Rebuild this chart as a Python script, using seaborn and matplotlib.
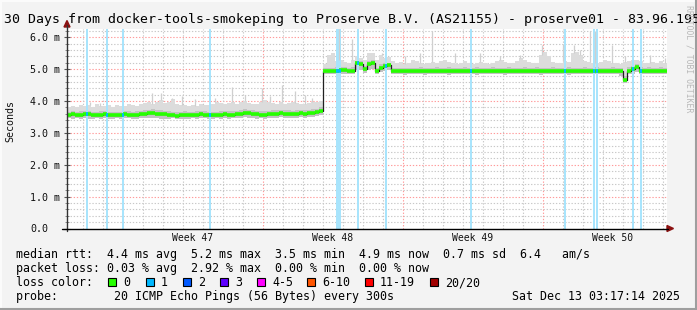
import numpy as np
import matplotlib
matplotlib.use("Agg")
import matplotlib.pyplot as plt
import seaborn as sns
from matplotlib.patches import Rectangle, Polygon
from matplotlib.lines import Line2D

# ---------------- data ----------------
title = "30 Days from docker-tools-smokeping to Proserve B.V. (AS21155) - proserve01 - 83.96.195"
bin_width = 0.2  # days per value
# median rtt (ms), one value per 0.2 day
median = [
    3.57, 3.58, 3.56, 3.57, 3.59, 3.58, 3.56, 3.55, 3.57, 3.58,
    3.57, 3.56, 3.55, 3.56, 3.58, 3.57, 3.56, 3.57, 3.58, 3.60,
    3.61, 3.62, 3.60, 3.59, 3.58, 3.57, 3.55, 3.54, 3.55, 3.57,
    3.56, 3.55, 3.57, 3.58, 3.57, 3.56, 3.55, 3.56, 3.57, 3.58,
    3.56, 3.57, 3.58, 3.60, 3.62, 3.61, 3.59, 3.58, 3.57, 3.56,
    3.58, 3.59, 3.60, 3.61, 3.60, 3.59, 3.58, 3.60, 3.61, 3.60,
    3.61, 3.62, 3.64, 3.68, 4.93, 4.94, 4.93, 4.95, 4.97, 4.96,
    4.94, 4.95, 5.18, 5.17, 5.00, 5.16, 5.20, 4.94, 5.05, 5.09,
    5.12, 4.95, 4.94, 4.93, 4.95, 4.94, 4.93, 4.94, 4.95, 4.94,
    4.93, 4.94, 4.95, 4.93, 4.94, 4.95, 4.94, 4.93, 4.94, 4.95,
    4.94, 4.93, 4.95, 4.94, 4.93, 4.94, 4.95, 4.94, 4.93, 4.94,
    4.95, 4.94, 4.93, 4.94, 4.95, 4.94, 4.93, 4.95, 4.94, 4.93,
    4.94, 4.95, 4.94, 4.93, 4.94, 4.95, 4.94, 4.93, 4.94, 4.95,
    4.94, 4.93, 4.95, 4.94, 4.93, 4.94, 4.95, 4.94, 4.94, 4.65,
    4.95, 5.00, 5.08, 4.95, 4.94, 4.95, 4.94, 4.93, 4.95, 4.94,
]
# dense inner smoke (upper edge)
inner_hi = [
    3.67, 3.68, 3.66, 3.68, 3.70, 3.69, 3.66, 3.66, 3.68, 3.68,
    3.67, 3.66, 3.66, 3.67, 3.69, 3.68, 3.67, 3.68, 3.70, 3.72,
    3.73, 3.74, 3.72, 3.71, 3.69, 3.68, 3.66, 3.65, 3.66, 3.68,
    3.67, 3.66, 3.68, 3.69, 3.68, 3.67, 3.66, 3.67, 3.69, 3.70,
    3.68, 3.69, 3.70, 3.72, 3.74, 3.73, 3.71, 3.70, 3.69, 3.68,
    3.70, 3.71, 3.72, 3.73, 3.72, 3.71, 3.70, 3.72, 3.73, 3.72,
    3.73, 3.74, 3.76, 3.80, 5.03, 5.04, 5.03, 5.06, 5.08, 5.07,
    5.05, 5.06, 5.26, 5.25, 5.10, 5.25, 5.28, 5.05, 5.15, 5.18,
    5.20, 5.05, 5.04, 5.03, 5.05, 5.04, 5.03, 5.05, 5.06, 5.04,
    5.03, 5.05, 5.06, 5.04, 5.05, 5.06, 5.04, 5.03, 5.05, 5.06,
    5.04, 5.03, 5.06, 5.05, 5.03, 5.04, 5.06, 5.05, 5.04, 5.05,
    5.06, 5.05, 5.04, 5.05, 5.06, 5.05, 5.04, 5.06, 5.05, 5.04,
    5.05, 5.06, 5.05, 5.04, 5.05, 5.06, 5.05, 5.04, 5.05, 5.06,
    5.05, 5.04, 5.06, 5.05, 5.04, 5.05, 5.06, 5.05, 5.05, 4.80,
    5.06, 5.10, 5.16, 5.06, 5.05, 5.06, 5.05, 5.04, 5.06, 5.05,
]
# outer smoke (upper edge)
outer_hi = [
    3.82, 3.85, 3.80, 3.88, 3.84, 3.86, 3.82, 3.90, 3.85, 3.83,
    3.86, 3.82, 3.88, 3.85, 3.84, 3.90, 3.87, 3.83, 3.92, 3.95,
    3.98, 3.92, 3.96, 4.02, 3.94, 3.97, 4.05, 3.90, 3.88, 3.86,
    3.84, 3.87, 3.85, 3.90, 3.88, 3.86, 3.92, 3.98, 3.95, 3.90,
    3.94, 3.98, 3.92, 3.96, 4.00, 3.95, 3.92, 3.90, 3.96, 4.02,
    3.98, 3.94, 3.92, 3.96, 3.90, 3.93, 3.98, 3.95, 3.92, 3.90,
    3.94, 3.96, 3.98, 4.00, 5.15, 5.45, 5.50, 5.25, 5.30, 5.22,
    5.20, 5.28, 5.40, 5.35, 5.30, 5.50, 5.52, 5.30, 5.45, 5.35,
    5.38, 5.25, 5.18, 5.22, 5.15, 5.20, 5.30, 5.25, 5.18, 5.15,
    5.20, 5.22, 5.18, 5.25, 5.30, 5.22, 5.18, 5.15, 5.20, 5.24,
    5.18, 5.16, 5.20, 5.22, 5.18, 5.15, 5.20, 5.24, 5.30, 5.22,
    5.18, 5.20, 5.25, 5.35, 5.30, 5.22, 5.18, 5.20, 5.45, 5.55,
    5.40, 5.22, 5.18, 5.20, 5.25, 5.22, 5.50, 5.55, 5.45, 5.25,
    5.22, 5.20, 5.18, 5.22, 5.30, 5.25, 5.20, 5.18, 5.15, 5.22,
    5.25, 5.28, 5.30, 5.24, 5.20, 5.18, 5.22, 5.20, 5.25, 5.20,
]
# outer smoke (lower edge)
outer_lo = [
    3.46, 3.45, 3.47, 3.44, 3.46, 3.45, 3.44, 3.46, 3.45, 3.47,
    3.45, 3.44, 3.46, 3.45, 3.47, 3.46, 3.44, 3.45, 3.46, 3.47,
    3.48, 3.47, 3.46, 3.45, 3.44, 3.45, 3.46, 3.44, 3.43, 3.45,
    3.44, 3.46, 3.45, 3.47, 3.46, 3.44, 3.45, 3.46, 3.45, 3.47,
    3.45, 3.46, 3.48, 3.47, 3.49, 3.48, 3.46, 3.45, 3.46, 3.45,
    3.47, 3.48, 3.47, 3.49, 3.48, 3.47, 3.46, 3.48, 3.49, 3.48,
    3.49, 3.50, 3.52, 3.55, 4.84, 4.85, 4.84, 4.86, 4.85, 4.84,
    4.85, 4.86, 4.98, 4.97, 4.88, 4.96, 5.00, 4.85, 4.92, 4.95,
    4.98, 4.86, 4.84, 4.85, 4.83, 4.84, 4.86, 4.85, 4.84, 4.83,
    4.85, 4.84, 4.85, 4.86, 4.84, 4.83, 4.85, 4.84, 4.85, 4.86,
    4.84, 4.85, 4.83, 4.84, 4.85, 4.84, 4.86, 4.85, 4.84, 4.83,
    4.85, 4.84, 4.85, 4.84, 4.86, 4.85, 4.84, 4.85, 4.83, 4.84,
    4.85, 4.86, 4.84, 4.85, 4.84, 4.83, 4.85, 4.84, 4.85, 4.86,
    4.84, 4.85, 4.84, 4.85, 4.84, 4.86, 4.85, 4.84, 4.80, 4.55,
    4.84, 4.86, 4.90, 4.84, 4.85, 4.84, 4.85, 4.86, 4.84, 4.85,
]
# single outlier pings (day, ms)
spike_days = [1.15, 1.65, 4.25, 4.7, 5.25, 5.75, 6.4, 7.4, 8.25, 8.9, 9.75,
              10.15, 10.75, 11.4, 11.9, 12.25,
              13.3, 13.6, 14.25, 15.75, 16.9, 17.65, 18.25, 19.4, 20.65,
              21.65, 22.65, 23.75, 24.8, 25.35, 25.65, 26.15, 26.4, 27.25,
              27.9, 29.15, 29.9]
spike_tops = [3.98, 3.95, 4.25, 4.26, 4.10, 4.15, 4.05, 4.10, 4.45, 4.20, 4.40,
              4.15, 4.50, 4.30, 4.20, 4.10,
              5.50, 6.25, 5.95, 5.50, 5.40, 5.50, 6.20, 5.50, 5.50,
              5.40, 5.45, 5.75, 5.75, 5.75, 5.60, 6.20, 6.20, 5.75,
              5.40, 5.45, 5.35]
# periods with 1/20 packet loss (start day, duration days)
loss_start = [0.95, 1.95, 2.75, 7.1, 13.45, 14.5, 15.9, 20.15, 24.85, 26.3, 26.45, 28.25, 28.65]
loss_dur = [0.1, 0.1, 0.1, 0.1, 0.25, 0.08, 0.08, 0.08, 0.1, 0.1, 0.1, 0.1, 0.08]

week_labels = ["Week 47", "Week 48", "Week 49", "Week 50"]
week_label_days = [6.3, 13.3, 20.3, 27.3]
week_bounds = [2.8, 9.8, 16.8, 23.8]
y_ticks = [0, 1, 2, 3, 4, 5, 6]
y_labels = ["0.0", "1.0 m", "2.0 m", "3.0 m", "4.0 m", "5.0 m", "6.0 m"]

legend_lines = [
    "median rtt:  4.4 ms avg  5.2 ms max  3.5 ms min  4.9 ms now  0.7 ms sd  6.4   am/s",
    "packet loss: 0.03 % avg  2.92 % max  0.00 % min  0.00 % now",
]
loss_labels = ["0", "1", "2", "3", "4-5", "6-10", "11-19", "20/20"]
loss_colors = ["#26ff00", "#00b8ff", "#0059ff", "#5e00ff", "#ff00ff", "#ff5500", "#ff0000", "#a10000"]
probe_text = "probe:        20 ICMP Echo Pings (56 Bytes) every 300s"
date_text = "Sat Dec 13 03:17:14 2025"

# ---------------- drawing ----------------
W, H = 697, 310
sns.set_style("white")
plt.rcParams["font.family"] = ["DejaVu Sans Mono"]
MONO = "DejaVu Sans Mono"

def fx(x):
    return x / W

def fy(y):
    return 1 - y / H

fig = plt.figure(figsize=(W / 100, H / 100), dpi=100, facecolor="#f3f3f3")
ax_bottom, ax_top = 228.5, 29.3
ax = fig.add_axes([fx(67), fy(ax_bottom), 600 / W, (ax_bottom - ax_top) / H])
ax.set_facecolor("white")
for s in ax.spines.values():
    s.set_visible(False)
ax.set_xlim(0, 30)
ax.set_ylim(0, 6.25)

# grid
for v in np.arange(0.2, 6.25, 0.2):
    major = abs(v - round(v)) < 1e-6
    ax.axhline(v, color="#ff9a9a" if major else "#c8c8c8", lw=0.8,
               ls=(0, (1.2, 1.6)), zorder=0.5)
for d in np.arange(0.8, 30, 1.0):
    major = any(abs(d - w) < 1e-6 for w in week_bounds)
    ax.axvline(d, color="#ff9a9a" if major else "#c8c8c8", lw=0.8,
               ls=(0, (1.2, 1.6)), zorder=0.5)

edges = np.arange(len(median) + 1) * bin_width
starts = edges[:-1]

# smoke
ax.stairs(outer_hi, edges, baseline=outer_lo, fill=True, color="#dcdcdc", lw=0, zorder=2)
ax.stairs(inner_hi, edges, baseline=outer_lo, fill=True, color="#c2c2c2", lw=0, zorder=2.1)
# spikes from smoke top
spike_base = [outer_hi[min(int(d / bin_width), len(outer_hi) - 1)] for d in spike_days]
ax.vlines(spike_days, spike_base, spike_tops, color="#cfcfcf", lw=0.9, zorder=2.6)

# loss backgrounds
for s0, du in zip(loss_start, loss_dur):
    ax.axvspan(s0, s0 + du, color="#a8e4fc", lw=0, zorder=2.5)

# median: thin dark step line, then thick loss-coloured pieces
sns.lineplot(x=starts, y=median, drawstyle="steps-post", color="#202020",
             lw=0.9, ax=ax, zorder=3)
ax.hlines(median, starts, edges[1:], color="#26ff00", lw=2.6, zorder=3.2)
for s0, du in zip(loss_start, loss_dur):
    m = median[min(int((s0 + du / 2) / bin_width), len(median) - 1)]
    ax.hlines(m, s0, s0 + du, color="#00b8ff", lw=2.6, zorder=3.3)

ax.set_xlabel("")
ax.set_ylabel("")

# ticks
ax.set_yticks(y_ticks)
ax.set_yticklabels(y_labels, ha="left", fontsize=7.2, family=MONO, color="#111111")
ax.set_yticks(np.arange(0.2, 6.25, 0.2), minor=True)
ax.tick_params(axis="y", which="major", direction="inout", length=4, width=0.8,
               color="#555555", pad=24.6, left=True)
ax.tick_params(axis="y", which="minor", direction="inout", length=3, width=0.6,
               color="#777777", left=True)
ax.set_xticks(week_label_days)
ax.set_xticklabels(week_labels, fontsize=7.0, family=MONO, color="#111111")
ax.tick_params(axis="x", which="major", length=0, pad=3.5, bottom=True)

# axis lines with arrows
fig.add_artist(Line2D([fx(67), fx(67)], [fy(231), fy(25)], color="#333333", lw=1.0,
                      transform=fig.transFigure))
fig.add_artist(Polygon([[fx(67), fy(20.5)], [fx(64), fy(27)], [fx(70), fy(27)]],
                       closed=True, color="#8b1010", transform=fig.transFigure))
fig.add_artist(Line2D([fx(62), fx(668)], [fy(228.5), fy(228.5)], color="#000000", lw=1.0,
                      transform=fig.transFigure))
fig.add_artist(Polygon([[fx(673.5), fy(228.5)], [fx(667), fy(225.5)], [fx(667), fy(231.5)]],
                       closed=True, color="#8b1010", transform=fig.transFigure))

# texts
fig.text(fx(4), fy(23.5), title, fontsize=9.5, family=MONO, va="baseline", ha="left",
         color="#000000")
fig.text(fx(10), fy(121), "Seconds", rotation=90, fontsize=7.2, family=MONO,
         va="center", ha="center", color="#111111")
fig.text(fx(689), fy(5), "RRDTOOL / TOBI OETIKER", rotation=270, fontsize=5.9,
         family=MONO, va="top", ha="center", color="#b8b8b8")

baselines = [258, 272, 286, 300]
for line, b in zip(legend_lines, baselines[:2]):
    fig.text(fx(16), fy(b), line, fontsize=8.4, family=MONO, va="baseline", ha="left",
             color="#000000")
fig.text(fx(16), fy(baselines[2]), "loss color:", fontsize=8.4, family=MONO,
         va="baseline", ha="left", color="#000000")
box_x = [108, 146, 183, 220, 257, 307, 365, 430]
for bx, lab, col in zip(box_x, loss_labels, loss_colors):
    fig.add_artist(Rectangle((fx(bx), fy(286)), 8 / W, 8 / H, facecolor=col,
                             edgecolor="#000000", lw=0.8, transform=fig.transFigure))
    fig.text(fx(bx + 15), fy(baselines[2]), lab, fontsize=8.4, family=MONO,
             va="baseline", ha="left", color="#000000")
fig.text(fx(16), fy(baselines[3]), probe_text, fontsize=8.4, family=MONO,
         va="baseline", ha="left", color="#000000")
fig.text(fx(680), fy(baselines[3]), date_text, fontsize=8.4, family=MONO,
         va="baseline", ha="right", color="#000000")

# frame shading
fig.add_artist(Line2D([0, 1], [fy(0.5), fy(0.5)], color="#fcfcfc", lw=1.4,
                      transform=fig.transFigure))
fig.add_artist(Line2D([fx(0.5), fx(0.5)], [0, 1], color="#fcfcfc", lw=1.4,
                      transform=fig.transFigure))
fig.add_artist(Line2D([0, 1], [fy(309), fy(309)], color="#9e9e9e", lw=1.5,
                      transform=fig.transFigure))
fig.add_artist(Line2D([fx(696), fx(696)], [0, 1], color="#9e9e9e", lw=1.5,
                      transform=fig.transFigure))

fig.savefig("out.png", dpi=100, facecolor=fig.get_facecolor())
